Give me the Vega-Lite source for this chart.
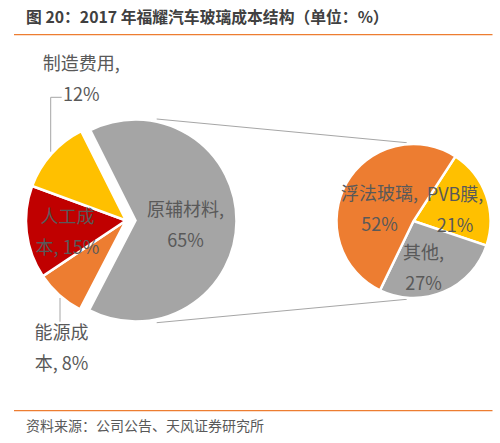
{
  "$schema": "https://vega.github.io/schema/vega-lite/v6.json",
  "width": 500,
  "height": 443,
  "autosize": {"type": "fit", "contains": "padding"},
  "padding": 0,
  "background": "white",
  "config": {"view": {"stroke": null}, "text": {"font": "Noto Sans CJK SC"}},
  "datasets": {
    "main": [
      {"item": "原辅材料", "value": 65, "k": 1, "label": "原辅材料,\n65%"},
      {"item": "能源成本", "value": 8, "k": 2, "label": "能源成\n本, 8%"},
      {"item": "人工成本", "value": 15, "k": 3, "label": "人工成\n本, 15%"},
      {"item": "制造费用", "value": 12, "k": 4, "label": "制造费用,\n12%"}
    ],
    "sub": [
      {"item": "PVB膜", "value": 21, "k": 1, "label": "PVB膜,\n21%"},
      {"item": "其他", "value": 27, "k": 2, "label": "其他,\n27%"},
      {"item": "浮法玻璃", "value": 52, "k": 3, "label": "浮法玻璃,\n52%"}
    ]
  },
  "resolve": {"scale": {"theta": "independent"}},
  "layer": [
    {
      "data": {"values": [{}]},
      "mark": {"type": "text", "align": "left", "baseline": "middle", "fontSize": 15.8, "fontWeight": "bold", "color": "#404040", "text": "图 20：2017 年福耀汽车玻璃成本结构（单位：%）"},
      "encoding": {"x": {"value": 26}, "y": {"value": 18}}
    },
    {
      "data": {"values": [{}]},
      "mark": {"type": "rule", "color": "#ED7D31", "strokeWidth": 1.2},
      "encoding": {"x": {"value": 14}, "x2": {"value": 492.5}, "y": {"value": 34.7}, "y2": {"value": 34.7}}
    },
    {
      "data": {"values": [{}]},
      "mark": {"type": "rule", "color": "#ED7D31", "strokeWidth": 1.2},
      "encoding": {"x": {"value": 14}, "x2": {"value": 492.5}, "y": {"value": 410.7}, "y2": {"value": 410.7}}
    },
    {
      "data": {"values": [{}]},
      "mark": {"type": "text", "align": "left", "baseline": "middle", "fontSize": 14, "color": "#595959", "text": "资料来源：公司公告、天风证券研究所"},
      "encoding": {"x": {"value": 26}, "y": {"value": 427}}
    },
    {
      "data": {"values": [{}]},
      "mark": {"type": "rule", "color": "#A6A6A6", "strokeWidth": 1},
      "encoding": {"x": {"value": 156.7}, "y": {"value": 119}, "x2": {"value": 406.7}, "y2": {"value": 142.7}}
    },
    {
      "data": {"values": [{}]},
      "mark": {"type": "rule", "color": "#A6A6A6", "strokeWidth": 1},
      "encoding": {"x": {"value": 156.7}, "y": {"value": 322.7}, "x2": {"value": 406.7}, "y2": {"value": 299.3}}
    },
    {
      "data": {"values": [{}]},
      "mark": {"type": "rule", "color": "#A6A6A6", "strokeWidth": 1},
      "encoding": {"x": {"value": 50.7}, "y": {"value": 97.3}, "x2": {"value": 61.7}, "y2": {"value": 97.3}}
    },
    {
      "data": {"values": [{}]},
      "mark": {"type": "rule", "color": "#A6A6A6", "strokeWidth": 1},
      "encoding": {"x": {"value": 50.7}, "y": {"value": 97.3}, "x2": {"value": 50.7}, "y2": {"value": 151.7}}
    },
    {
      "data": {"values": [{}]},
      "mark": {"type": "rule", "color": "#A6A6A6", "strokeWidth": 1},
      "encoding": {"x": {"value": 60}, "y": {"value": 298}, "x2": {"value": 60}, "y2": {"value": 321.7}}
    },
    {
      "data": {"name": "main"},
      "encoding": {
        "theta": {"field": "value", "type": "quantitative", "stack": true, "scale": {"range": [5.8189, 12.1021]}},
        "order": {"field": "k", "type": "quantitative"}
      },
      "layer": [
        {
          "mark": {"type": "arc", "x": 126, "y": 220.5, "radius": 100, "stroke": "white", "strokeWidth": 2.5},
          "encoding": {
            "color": {"field": "item", "type": "nominal", "legend": null,
              "scale": {"domain": ["原辅材料", "能源成本", "人工成本", "制造费用", "PVB膜", "其他", "浮法玻璃"],
                        "range": ["#A5A5A5", "#ED7D31", "#C00000", "#FFC000", "#FFC000", "#A5A5A5", "#ED7D31"]}},
            "opacity": {"condition": {"test": "datum.item === '原辅材料'", "value": 0}, "value": 1}}
        },
        {
          "mark": {"type": "arc", "x": 135.5, "y": 220.5, "radius": 101, "stroke": "white", "strokeWidth": 2.5},
          "encoding": {
            "color": {"field": "item", "type": "nominal", "legend": null},
            "opacity": {"condition": {"test": "datum.item === '原辅材料'", "value": 1}, "value": 0}}
        },
        {
          "mark": {"type": "text", "x": 135.5, "y": 220.5, "radius": 50, "dy": -9.5, "fontSize": 18, "fill": "#595959", "lineHeight": 31, "lineBreak": "\n", "baseline": "middle"},
          "encoding": {"text": {"condition": {"test": "datum.item === '原辅材料'", "field": "label"}, "value": ""}}
        },
        {
          "mark": {"type": "text", "x": 126, "y": 220.5, "radius": 59, "dy": -9.5, "fontSize": 18, "fill": "#595959", "lineHeight": 31, "lineBreak": "\n", "baseline": "middle"},
          "encoding": {"text": {"condition": {"test": "datum.item === '人工成本'", "field": "label"}, "value": ""}}
        },
        {
          "mark": {"type": "text", "x": 126, "y": 220.5, "radius": 144.5, "dx": 31.8, "dy": 5.5, "fontSize": 18, "fill": "#595959", "lineHeight": 31, "lineBreak": "\n", "baseline": "middle"},
          "encoding": {"text": {"condition": {"test": "datum.item === '能源成本'", "field": "label"}, "value": ""}}
        },
        {
          "mark": {"type": "text", "x": 126, "y": 220.5, "radius": 146.4, "dx": 64.5, "dy": -58, "fontSize": 18, "fill": "#595959", "lineHeight": 31, "lineBreak": "\n", "baseline": "middle"},
          "encoding": {"text": {"condition": {"test": "datum.item === '制造费用'", "field": "label"}, "value": ""}}
        }
      ]
    },
    {
      "data": {"name": "sub"},
      "encoding": {
        "theta": {"field": "value", "type": "quantitative", "stack": true, "scale": {"range": [0.576, 6.8592]}},
        "order": {"field": "k", "type": "quantitative"}
      },
      "layer": [
        {
          "mark": {"type": "arc", "x": 413.5, "y": 221, "radius": 77, "stroke": "white", "strokeWidth": 2.5},
          "encoding": {"color": {"field": "item", "type": "nominal", "legend": null}}
        },
        {
          "mark": {"type": "text", "x": 413.5, "y": 221, "radius": 42.5, "dx": 1.4, "dy": -10.8, "fontSize": 18, "fill": "#595959", "lineHeight": 31, "lineBreak": "\n", "baseline": "middle"},
          "encoding": {"text": {"condition": {"test": "datum.item === 'PVB膜'", "field": "label"}, "value": ""}}
        },
        {
          "mark": {"type": "text", "x": 413.5, "y": 221, "radius": 49, "dx": -9, "dy": -12.5, "fontSize": 18, "fill": "#595959", "lineHeight": 31, "lineBreak": "\n", "baseline": "middle"},
          "encoding": {"text": {"condition": {"test": "datum.item === '其他'", "field": "label"}, "value": ""}}
        },
        {
          "mark": {"type": "text", "x": 413.5, "y": 221, "radius": 35.6, "dx": -3, "dy": -8.5, "fontSize": 18, "fill": "#595959", "lineHeight": 31, "lineBreak": "\n", "baseline": "middle"},
          "encoding": {"text": {"condition": {"test": "datum.item === '浮法玻璃'", "field": "label"}, "value": ""}}
        }
      ]
    }
  ]
}
